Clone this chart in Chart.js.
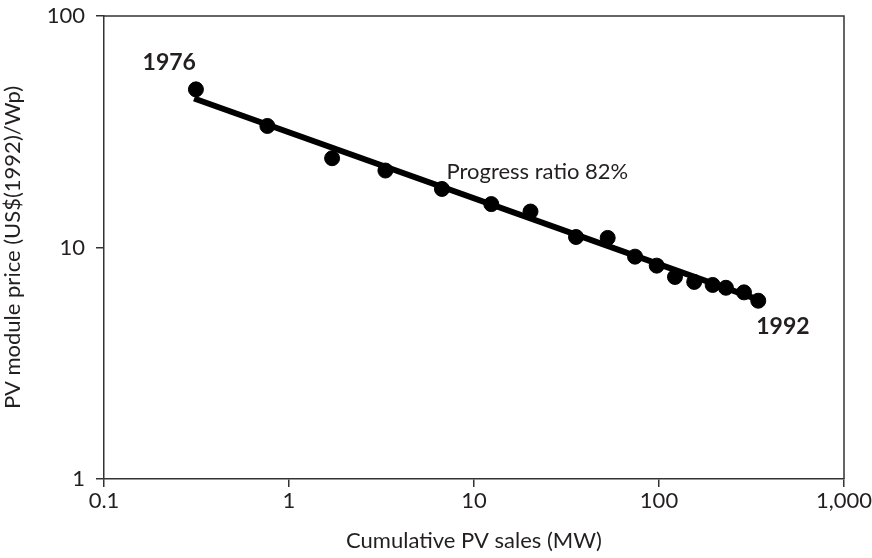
<!DOCTYPE html>
<html>
<head>
<meta charset="utf-8">
<script src="https://cdn.jsdelivr.net/npm/chart.js@4"></script>
<style>
html,body{margin:0;padding:0;background:#fff;}
#wrap{width:872px;height:558px;}
</style>
</head>
<body>
<div id="wrap"><canvas id="c" width="872" height="558"></canvas></div>
<script>
// Cumulative PV sales (MW) and module price (US$(1992)/Wp), 1976..1992
const salesMW = [0.314, 0.764, 1.71, 3.32, 6.71, 12.4, 20.2, 35.6, 52.8, 74.2, 97.2, 122, 155, 195, 230, 288, 344];
const priceUSD = [48.2, 33.5, 24.3, 21.5, 17.9, 15.4, 14.3, 11.1, 11.0, 9.13, 8.35, 7.46, 7.10, 6.89, 6.70, 6.40, 5.89];
// Experience curve (progress ratio 82%) endpoints
const fitX = [0.307, 335];
const fitY = [44.0, 6.0];
const xTicks = [0.1, 1, 10, 100, 1000];
const xTickLabels = ['0.1', '1', '10', '100', '1,000'];
const yTicks = [1, 10, 100];
const yTickLabels = ['1', '10', '100'];
const firstYear = '1976', lastYear = '1992';
const fitLabel = 'Progress ratio 82%';
const fitLabelAt = {x: 7.1, y: 21.2};

const FONT = 'Lato, "Open Sans", sans-serif';
const TXT = '#231f20';

const framePlugin = {
  id: 'frame',
  afterDraw(chart) {
    const {ctx, chartArea: a, scales} = chart;
    ctx.save();
    ctx.strokeStyle = '#333';
    ctx.lineWidth = 1.5;
    ctx.beginPath();
    ctx.moveTo(a.left, a.top); ctx.lineTo(a.right, a.top); ctx.lineTo(a.right, a.bottom);
    ctx.stroke();
    ctx.fillStyle = TXT;
    ctx.textBaseline = 'middle';
    ctx.font = 'bold 23px ' + FONT;
    const x0 = scales.x.getPixelForValue(salesMW[0]);
    const y0 = scales.y.getPixelForValue(priceUSD[0]);
    ctx.textAlign = 'right';
    ctx.fillText(firstYear, x0, y0 - 27);
    const n = salesMW.length - 1;
    const x1 = scales.x.getPixelForValue(salesMW[n]);
    const y1 = scales.y.getPixelForValue(priceUSD[n]);
    ctx.textAlign = 'left';
    ctx.fillText(lastYear, x1 - 2, y1 + 26);
    ctx.font = '22px ' + FONT;
    ctx.fillText(fitLabel, scales.x.getPixelForValue(fitLabelAt.x), scales.y.getPixelForValue(fitLabelAt.y));
    ctx.restore();
  }
};

new Chart(document.getElementById('c'), {
  type: 'scatter',
  data: {
    datasets: [
      {
        label: 'fit',
        type: 'line',
        data: fitX.map((x, i) => ({x, y: fitY[i]})),
        borderColor: '#000',
        borderWidth: 6,
        pointRadius: 0,
        order: 2
      },
      {
        label: 'data',
        data: salesMW.map((x, i) => ({x, y: priceUSD[i]})),
        backgroundColor: '#000',
        borderColor: '#000',
        pointRadius: 7.5,
        pointHoverRadius: 7.5,
        order: 1
      }
    ]
  },
  options: {
    responsive: false,
    animation: false,
    devicePixelRatio: 1,
    layout: {padding: {top: 16, right: 28, left: 0, bottom: 0}},
    plugins: {legend: {display: false}, tooltip: {enabled: false}},
    scales: {
      x: {
        type: 'logarithmic',
        min: 0.1, max: 1000,
        afterBuildTicks: s => { s.ticks = xTicks.map(v => ({value: v})); },
        afterFit: s => { s.height = 79; s.paddingLeft = 0; s.paddingRight = 0; },
        grid: {display: true, drawOnChartArea: false, drawTicks: true, tickLength: 8, color: '#333', lineWidth: 1.5},
        border: {display: true, color: '#333', width: 1.5},
        ticks: {
          color: TXT, font: {family: FONT, size: 22}, padding: 1, maxRotation: 0,
          callback: (v) => { const i = xTicks.indexOf(v); return i >= 0 ? xTickLabels[i] : ''; }
        },
        title: {display: true, text: 'Cumulative PV sales (MW)', color: TXT, font: {family: FONT, size: 22}, padding: {top: 18}}
      },
      y: {
        type: 'logarithmic',
        min: 1, max: 100,
        afterBuildTicks: s => { s.ticks = yTicks.map(v => ({value: v})); },
        afterFit: s => { s.width = 104; s.paddingTop = 0; s.paddingBottom = 0; },
        grid: {display: true, drawOnChartArea: false, drawTicks: true, tickLength: 8, color: '#333', lineWidth: 1.5},
        border: {display: true, color: '#333', width: 1.5},
        ticks: {
          color: TXT, font: {family: FONT, size: 22}, padding: 11,
          callback: (v) => { const i = yTicks.indexOf(v); return i >= 0 ? yTickLabels[i] : ''; }
        },
        title: {display: true, text: 'PV module price (US$(1992)/Wp)', color: TXT, font: {family: FONT, size: 22}, padding: {top: 0, bottom: 0}}
      }
    }
  },
  plugins: [framePlugin]
});
</script>
</body>
</html>
